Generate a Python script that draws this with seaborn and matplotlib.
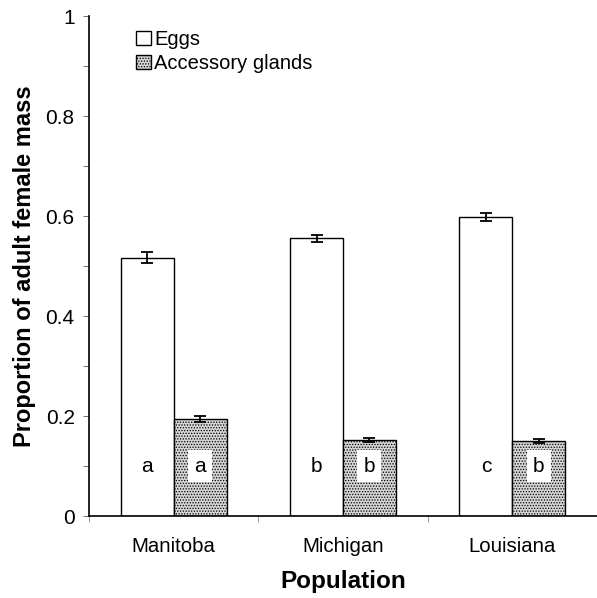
import matplotlib
matplotlib.use("Agg")
import matplotlib.pyplot as plt
import seaborn as sns
import pandas as pd
import numpy as np
from matplotlib.patches import Patch

populations = ["Manitoba", "Michigan", "Louisiana"]
tissues = ["Eggs", "Accessory glands"]
eggs = [0.517, 0.556, 0.598]
eggs_se = [0.011, 0.007, 0.008]
glands = [0.195, 0.153, 0.150]
glands_se = [0.006, 0.004, 0.004]
eggs_letters = ["a", "b", "c"]
glands_letters = ["a", "b", "b"]

sns.set_style("ticks")
plt.rcParams["font.family"] = ["Liberation Sans", "DejaVu Sans"]
plt.rcParams["hatch.linewidth"] = 0.6
plt.rcParams["hatch.color"] = "#555555"
for k in ["text.color", "axes.labelcolor", "xtick.color", "ytick.color", "axes.edgecolor"]:
    plt.rcParams[k] = "black"

df = pd.DataFrame({
    "Population": populations * 2,
    "Tissue": ["Eggs"] * 3 + ["Accessory glands"] * 3,
    "Value": eggs + glands,
})

fig = plt.figure(figsize=(5.97, 5.98), dpi=100)
ax = fig.add_axes([89 / 597, (598 - 516) / 598, (597 - 89) / 597, 500 / 598])

sns.barplot(data=df, x="Population", y="Value", hue="Tissue", order=populations,
            hue_order=tissues, palette=["white", "#d4d4d4"], edgecolor="black",
            linewidth=1.0, width=0.625, gap=0, errorbar=None, ax=ax, legend=False)

patches = [p for p in ax.patches]
for i, p in enumerate(patches[:3]):
    x = p.get_x() + p.get_width() / 2
    ax.errorbar(x, eggs[i], yerr=eggs_se[i], color="black", capsize=4, capthick=1.3, lw=1.3)
    ax.text(x, 0.1, eggs_letters[i], ha="center", va="center", fontsize=15)
for i, p in enumerate(patches[3:6]):
    p.set_hatch("......")
    x = p.get_x() + p.get_width() / 2
    ax.errorbar(x, glands[i], yerr=glands_se[i], color="black", capsize=4, capthick=1.3, lw=1.3)
    ax.text(x, 0.1, glands_letters[i], ha="center", va="center", fontsize=15,
            bbox=dict(facecolor="white", edgecolor="none", pad=4.5))

ax.set_ylim(0, 1)
ax.set_xlim(-0.5, 2.5)
ax.set_yticks([0, 0.2, 0.4, 0.6, 0.8, 1.0])
ax.set_yticklabels(["0", "0.2", "0.4", "0.6", "0.8", "1"], fontsize=15)
ax.set_yticks(np.arange(0.1, 1.0, 0.2), minor=True)
ax.tick_params(axis="y", which="both", length=4.3, width=0.6, direction="out", pad=6,
               color="#555555")
ax.set_xticks([0, 1, 2])
ax.set_xticklabels(populations, fontsize=14.7)
ax.set_xticks([-0.5, 0.5, 1.5, 2.5], minor=True)
ax.tick_params(axis="x", which="major", length=0, pad=15)
ax.tick_params(axis="x", which="minor", length=4, width=0.6, direction="out", color="#888888")
ax.set_xlabel("Population", fontsize=17.5, fontweight="bold", labelpad=10)
ax.set_ylabel("Proportion of adult female mass", fontsize=17, fontweight="bold", labelpad=7)
sns.despine(ax=ax)
for s in ["left", "bottom"]:
    ax.spines[s].set_linewidth(1.2)

handles = [Patch(facecolor="white", edgecolor="black", label="Eggs"),
           Patch(facecolor="#d4d4d4", edgecolor="black", hatch="......", label="Accessory glands")]
ax.legend(handles=handles, loc="upper left", bbox_to_anchor=(0.065, 1.0), frameon=False,
          fontsize=14.5, handlelength=0.75, handleheight=0.75, handletextpad=0.15,
          labelspacing=0.25, borderaxespad=0.3)

fig.savefig("out.png", dpi=100)
